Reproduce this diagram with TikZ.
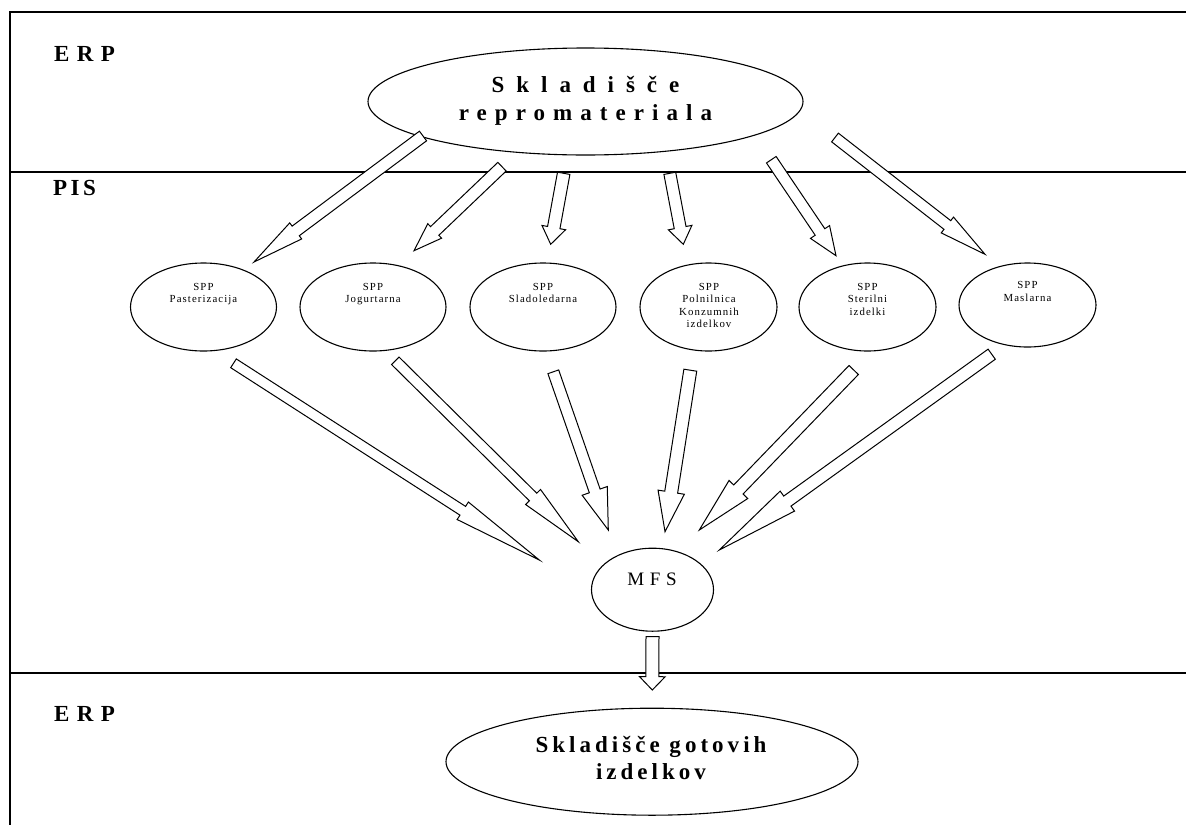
\documentclass[tikz,border=0pt]{standalone}
\usepackage{fontspec}
\usetikzlibrary{calc,shapes.geometric}
\setmainfont{Liberation Serif}
\newfontfamily\storewide[LetterSpace=52]{Liberation Serif}
\newfontfamily\storemid[LetterSpace=35]{Liberation Serif}
\newfontfamily\storenarrow[LetterSpace=17.5]{Liberation Serif}
\newfontfamily\mfsfont[LetterSpace=30]{Liberation Serif}
\newfontfamily\layerfont[LetterSpace=32]{Liberation Serif}
\newfontfamily\pisfont[LetterSpace=15]{Liberation Serif}
\newfontfamily\sppfont[LetterSpace=10]{Liberation Serif}

% block arrow: tail, tip, half shaft width, half head width, head length
\newcommand\blockarr[5]{%
  \coordinate (hb) at ($(#2)!#5!(#1)$);
  \draw[blockarrow]
    ($(#1)!#3!90:(#2)$) -- ($(hb)!#3!90:(#2)$) -- ($(hb)!#4!90:(#2)$) -- (#2)
    -- ($(hb)!#4!-90:(#2)$) -- ($(hb)!#3!-90:(#2)$) -- ($(#1)!#3!-90:(#2)$) -- cycle;
}

\tikzset{
  frame/.style={line width=1.3pt},
  oval/.style={ellipse, draw, line width=1.1pt, inner sep=0pt},
  blockarrow/.style={draw, line width=1pt, fill=white, line join=miter},
  layer/.style={anchor=north west, inner sep=0pt, font=\layerfont\bfseries\fontsize{23}{27}\selectfont},
  store/.style={anchor=north, inner sep=0pt, align=center, font=\bfseries\fontsize{23}{27.3}\selectfont},
  spptext/.style={anchor=north, inner sep=0pt, align=center, font=\sppfont\fontsize{10.8}{12.5}\selectfont},
  mfstext/.style={anchor=north, inner sep=0pt, font=\mfsfont\fontsize{19}{22}\selectfont},
}

\begin{document}
\begin{tikzpicture}[x=1pt,y=-1pt]
\useasboundingbox (0,0) rectangle (1186,825);

% layer boundaries
\draw[frame] (1186,12) -- (10,12) -- (10,825);
\draw[frame] (10,172) -- (1186,172);
\draw[frame] (10,673) -- (1186,673);

% layer names
\node[layer] (erptop) at (54,46.5) {ERP};
\node[layer, font=\pisfont\bfseries\fontsize{23}{27}\selectfont] (pis) at (53,180) {PIS};
\node[layer] (erpbot) at (54,706) {ERP};

% stores
\node[oval, minimum width=435, minimum height=107] (repro) at (585.5,101.5) {};
\node[store] (reprotext) at (585.5,76.5) {{\storewide Skladišče}\\{\storemid repromateriala}};
\node[oval, minimum width=412, minimum height=107] (gotovi) at (652,761.7) {};
\node[store] (gotovitext) at (651,736) {{\storenarrow Skladišče gotovih}\\{\storenarrow izdelkov}};

% production units
\node[oval, minimum width=146, minimum height=88] (spp1) at (203.5,307) {};
\node[oval, minimum width=146, minimum height=88] (spp2) at (373,307) {};
\node[oval, minimum width=146, minimum height=88] (spp3) at (543,307) {};
\node[oval, minimum width=137, minimum height=88] (spp4) at (708.5,307) {};
\node[oval, minimum width=137, minimum height=88] (spp5) at (867.5,307) {};
\node[oval, minimum width=137, minimum height=84] (spp6) at (1027.5,305) {};
\node[spptext] (t1) at (203.5,283) {SPP\\Pasterizacija};
\node[spptext] (t2) at (373,283) {SPP\\Jogurtarna};
\node[spptext] (t3) at (543,283) {SPP\\Sladoledarna};
\node[spptext] (t4) at (709,283) {SPP\\Polnilnica\\Konzumnih\\izdelkov};
\node[spptext] (t5) at (867.5,283) {SPP\\Sterilni\\izdelki};
\node[spptext] (t6) at (1027.5,281.5) {SPP\\Maslarna};

% central unit
\node[oval, minimum width=122, minimum height=83] (mfs) at (652.5,589.7) {};
\node[mfstext] (mfstext) at (652,572.5) {MFS};

% arrow ends
\coordinate (a1s) at (423,136);   \coordinate (a1e) at (254,262);
\coordinate (a2s) at (502,166.7); \coordinate (a2e) at (414,250.7);
\coordinate (a3s) at (563.7,173.3); \coordinate (a3e) at (550.7,244.3);
\coordinate (a4s) at (669.8,173.3); \coordinate (a4e) at (683.3,244.3);
\coordinate (a5s) at (771.3,159.7); \coordinate (a5e) at (836,255.7);
\coordinate (a6s) at (835,137.5); \coordinate (a6e) at (985,254.3);
\coordinate (b1s) at (233.5,363.3); \coordinate (b1e) at (539.3,560);
\coordinate (b2s) at (395.3,360.8); \coordinate (b2e) at (578.3,541.7);
\coordinate (b3s) at (553.3,371.8); \coordinate (b3e) at (608.3,530);
\coordinate (b4s) at (690.3,370.2); \coordinate (b4e) at (665,531.7);
\coordinate (b5s) at (853.7,370);   \coordinate (b5e) at (699.3,530);
\coordinate (b6s) at (991.7,354.2); \coordinate (b6e) at (719.3,550);
\coordinate (cs) at (652.5,636.7);  \coordinate (ce) at (652.3,690);

% store to production units
\blockarr{a1s}{a1e}{6pt}{10pt}{52pt}
\blockarr{a2s}{a2e}{6pt}{10pt}{28.6pt}
\blockarr{a3s}{a3e}{6.3pt}{12pt}{17pt}
\blockarr{a4s}{a4e}{6pt}{12pt}{17pt}
\blockarr{a5s}{a5e}{5.8pt}{11.5pt}{28.6pt}
\blockarr{a6s}{a6e}{5.5pt}{10pt}{47.7pt}

% production units to MFS
\blockarr{b1s}{b1e}{5.2pt}{10.4pt}{91pt}
\blockarr{b2s}{b2e}{5.3pt}{10.6pt}{63.6pt}
\blockarr{b3s}{b3e}{5.7pt}{13.3pt}{41.4pt}
\blockarr{b4s}{b4e}{6.5pt}{13.3pt}{40pt}
\blockarr{b5s}{b5e}{6.5pt}{13pt}{56.3pt}
\blockarr{b6s}{b6e}{6.2pt}{12.3pt}{83.8pt}

% MFS to finished goods
\blockarr{cs}{ce}{6.5pt}{12.8pt}{13.3pt}
\end{tikzpicture}
\end{document}
